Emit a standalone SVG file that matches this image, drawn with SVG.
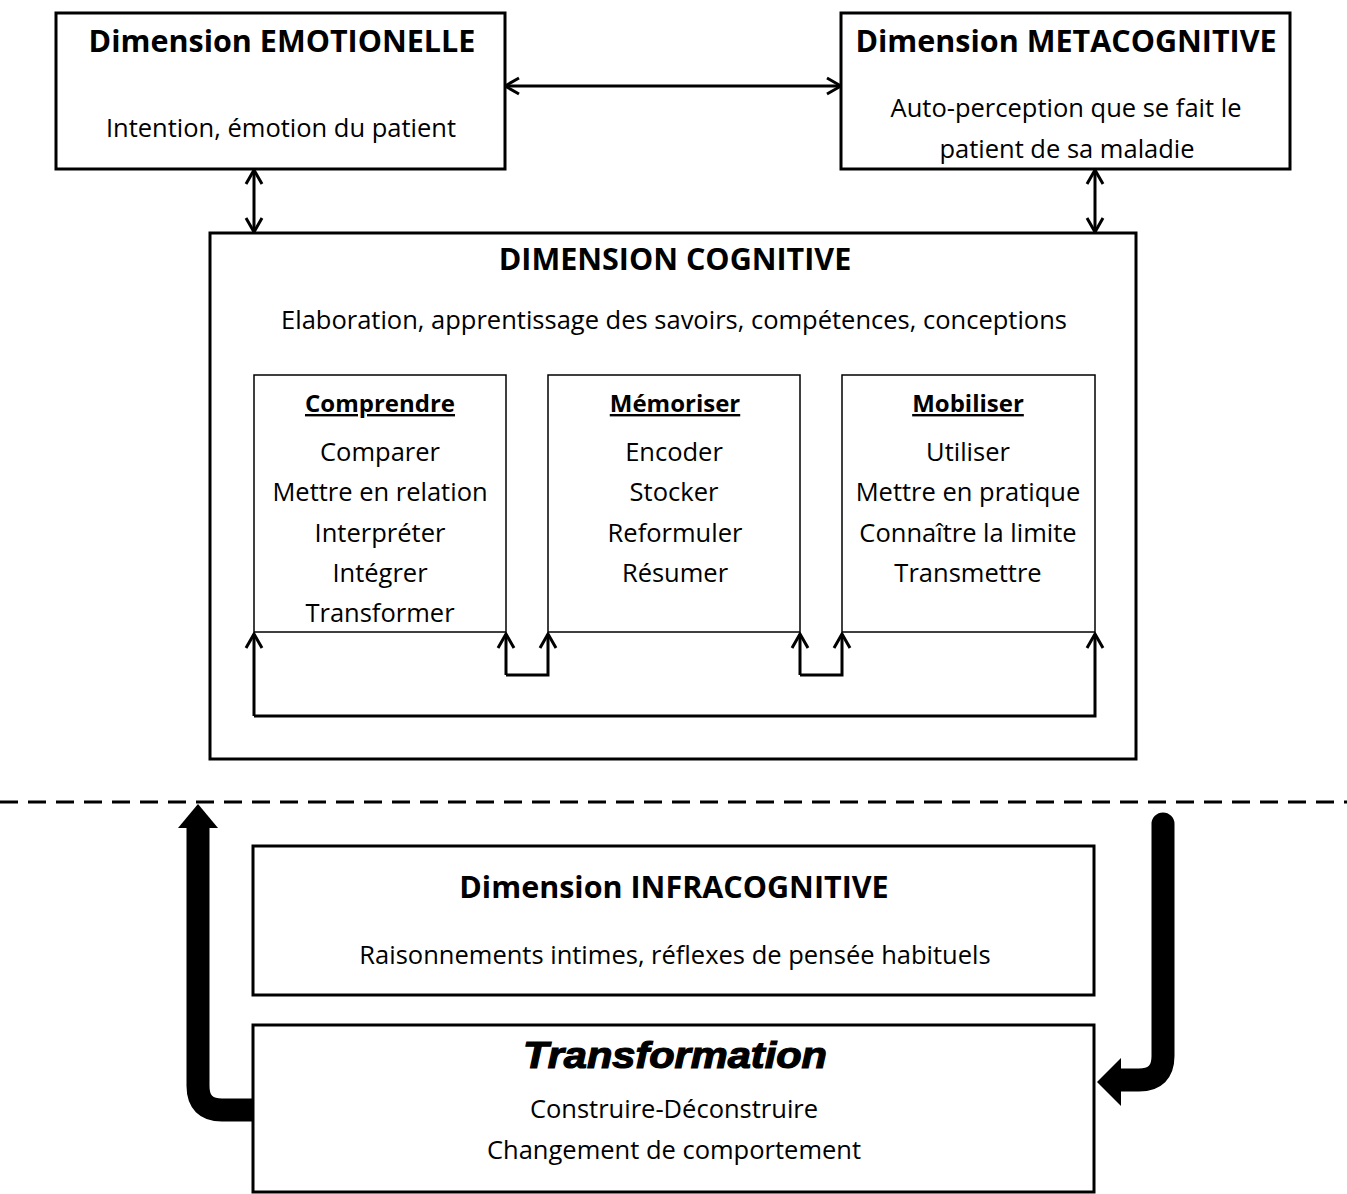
<svg xmlns="http://www.w3.org/2000/svg" width="1347" height="1194" viewBox="0 0 1347 1194">
<style>
.box{fill:#fff;stroke:#000;stroke-width:3}
.ibox{fill:#fff;stroke:#000;stroke-width:1.5}
.t{font-family:"Open Sans","Liberation Sans",sans-serif;font-size:25.5px;fill:#000;text-anchor:middle}
.h{font-family:"Open Sans","Liberation Sans",sans-serif;font-size:30.5px;font-weight:bold;fill:#000;text-anchor:middle}
.s{font-family:"Open Sans","Liberation Sans",sans-serif;font-size:24px;font-weight:bold;fill:#000;text-anchor:middle;text-decoration:underline}
.c{fill:none;stroke:#000;stroke-width:3}
</style>
<defs>
<marker id="ah" viewBox="0 0 20 20" refX="18" refY="10" markerWidth="20" markerHeight="20" markerUnits="userSpaceOnUse" orient="auto-start-reverse">
<path d="M4 2 L18 10 L4 18" fill="none" stroke="#000" stroke-width="3"/>
</marker>
</defs>
<rect width="1347" height="1194" fill="#fff"/>
<g id="connectors">
<line class="c" x1="505" y1="86" x2="841" y2="86" marker-start="url(#ah)" marker-end="url(#ah)"/>
<line class="c" x1="254" y1="170" x2="254" y2="232" marker-start="url(#ah)" marker-end="url(#ah)"/>
<line class="c" x1="1095" y1="170" x2="1095" y2="232" marker-start="url(#ah)" marker-end="url(#ah)"/>
<line x1="0" y1="802" x2="1347" y2="802" stroke="#000" stroke-width="3" stroke-dasharray="18,10"/>
<path d="M253 1110 H222 Q198 1110 198 1086 V826" fill="none" stroke="#000" stroke-width="23"/>
<path d="M178 828 L198 804 L218 828 Z" fill="#000"/>
<path d="M1163 824 V1056 Q1163 1080 1139 1080 H1118" fill="none" stroke="#000" stroke-width="23" stroke-linecap="round"/>
<path d="M1121 1058 L1097 1082 L1121 1106 Z" fill="#000"/>
</g>
<g id="emotionelle">
<rect class="box" x="56" y="13" width="449" height="156"/>
<text class="h" x="282" y="52">Dimension EMOTIONELLE</text>
<text class="t" x="281" y="137">Intention, émotion du patient</text>
</g>
<g id="metacognitive">
<rect class="box" x="841" y="13" width="449" height="156"/>
<text class="h" x="1066" y="52">Dimension METACOGNITIVE</text>
<text class="t" x="1066" y="117">Auto-perception que se fait le</text>
<text class="t" x="1067" y="158">patient de sa maladie</text>
</g>
<g id="cognitive">
<rect class="box" x="210" y="233" width="926" height="526"/>
<text class="h" x="675" y="270">DIMENSION COGNITIVE</text>
<text class="t" x="674" y="329">Elaboration, apprentissage des savoirs, compétences, conceptions</text>
</g>
<g id="comprendre">
<rect class="ibox" x="254" y="375" width="252" height="257"/>
<text class="s" x="380" y="412">Comprendre</text>
<text class="t" x="380" y="461">Comparer</text>
<text class="t" x="380" y="501">Mettre en relation</text>
<text class="t" x="380" y="542">Interpréter</text>
<text class="t" x="380" y="582">Intégrer</text>
<text class="t" x="380" y="622">Transformer</text>
</g>
<g id="memoriser">
<rect class="ibox" x="548" y="375" width="252" height="257"/>
<text class="s" x="675" y="412">Mémoriser</text>
<text class="t" x="674" y="461">Encoder</text>
<text class="t" x="674" y="501">Stocker</text>
<text class="t" x="675" y="542">Reformuler</text>
<text class="t" x="675" y="582">Résumer</text>
</g>
<g id="mobiliser">
<rect class="ibox" x="842" y="375" width="253" height="257"/>
<text class="s" x="968" y="412">Mobiliser</text>
<text class="t" x="968" y="461">Utiliser</text>
<text class="t" x="968" y="501">Mettre en pratique</text>
<text class="t" x="968" y="542">Connaître la limite</text>
<text class="t" x="968" y="582">Transmettre</text>
</g>
<g id="inner-connectors">
<path class="c" d="M254 716 V634" marker-end="url(#ah)"/>
<path class="c" d="M254 716 H1095 V634" marker-end="url(#ah)"/>
<path class="c" d="M506 675 V634" marker-end="url(#ah)"/>
<path class="c" d="M506 675 H548 V634" marker-end="url(#ah)"/>
<path class="c" d="M800 675 V634" marker-end="url(#ah)"/>
<path class="c" d="M800 675 H842 V634" marker-end="url(#ah)"/>
</g>
<g id="infracognitive">
<rect class="box" x="253" y="846" width="841" height="149"/>
<text class="h" x="674" y="898">Dimension INFRACOGNITIVE</text>
<text class="t" x="675" y="964">Raisonnements intimes, réflexes de pensée habituels</text>
</g>
<g id="transformation">
<rect class="box" x="253" y="1025" width="841" height="167"/>
<text x="675" y="1068" text-anchor="middle" font-family="'Liberation Sans',Arial,sans-serif" font-size="37" font-weight="bold" font-style="italic" stroke="#000" stroke-width="1.2" textLength="304" lengthAdjust="spacingAndGlyphs">Transformation</text>
<text class="t" x="674" y="1118">Construire-Déconstruire</text>
<text class="t" x="674" y="1159">Changement de comportement</text>
</g>
</svg>
